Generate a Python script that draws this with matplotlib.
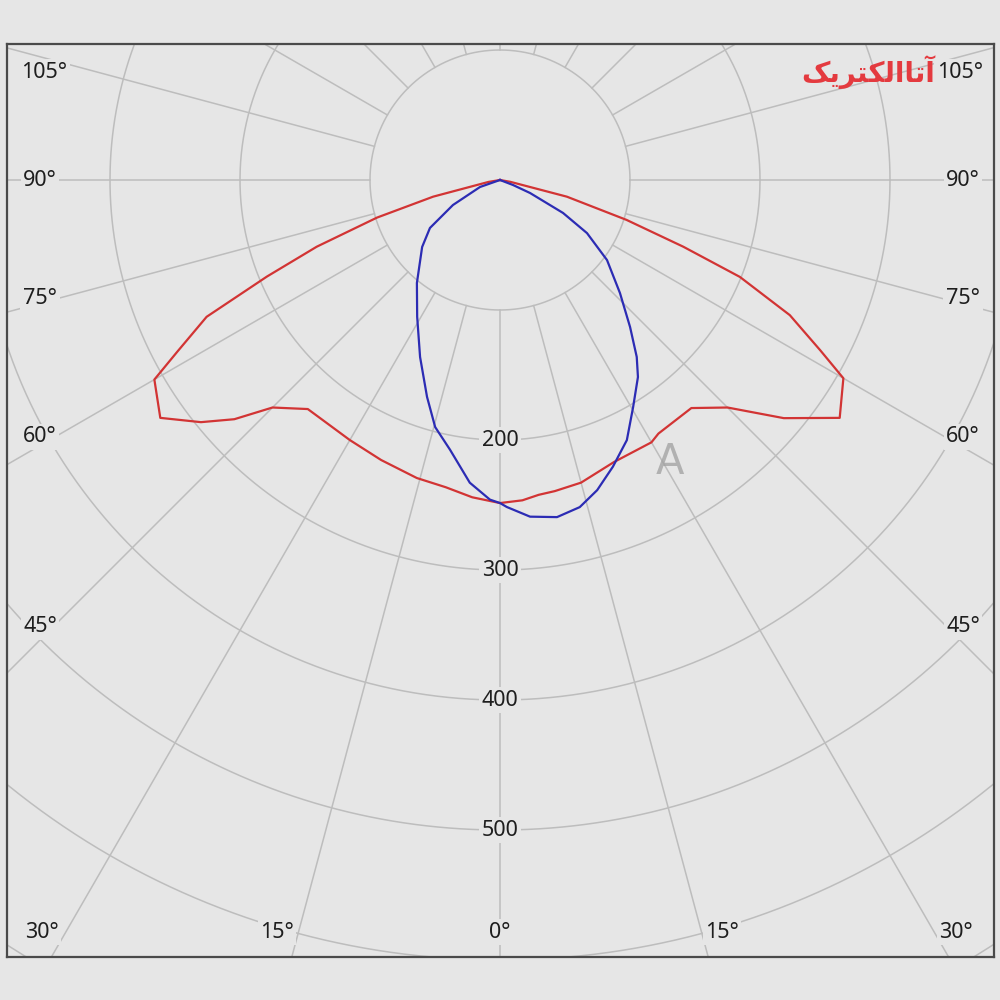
import numpy as np
import matplotlib
matplotlib.use("Agg")
import matplotlib.pyplot as plt

# ---------------- data (gamma angle in degrees, intensity in cd) ----------------
# C0-C180 plane (red): right half (C0) and left half (C180)
red_right_angle = [0, 4, 7, 10, 15, 22, 30, 32, 40, 45, 50, 55, 60, 62, 65, 68, 70, 72.5, 76, 80, 85, 90]
red_right_cd    = [248.5, 247, 244, 243, 241, 234, 233, 230, 229, 247.5, 285, 319, 305, 279, 246, 199, 150, 102, 53, 8, 0, 0]
red_left_angle  = [0, 5, 10, 15.6, 23, 30, 40, 45, 48, 51, 55, 60, 62, 65, 67.5, 70, 73, 76, 80.5, 85, 90]
red_left_cd     = [248.5, 245, 240, 238, 234, 231, 230, 247.5, 275, 296, 319, 307, 281, 249, 194, 150, 99, 53, 9, 0, 0]

# C90-C270 plane (blue)
blue_right_angle = [0, 1.2, 5.1, 9.6, 13.7, 17.4, 21.5, 26, 30.4, 35, 37.7, 41.5, 46.7, 53.2, 58.6, 62.4, 66.6, 69, 75, 90]
blue_right_cd    = [248.5, 251.6, 260, 263, 259, 250, 237, 222.6, 202.4, 185, 172, 151, 126.8, 102.8, 78.4, 54.7, 25.2, 10.7, 0, 0]
blue_left_angle  = [0, 1.8, 5.7, 10.5, 14.7, 18.6, 24.3, 31.2, 38.9, 49.3, 55.6, 62, 70.7, 75, 90]
blue_left_cd     = [248.5, 246, 234, 211, 196.5, 176, 149.4, 123, 101.8, 79, 65.3, 41, 16.3, 0, 0]

ring_values = [100, 200, 300, 400, 500, 600, 700]
ring_labels = ["200", "300", "400", "500"]
spoke_angles = list(range(0, 360, 15))
side_angle_labels = ["105°", "90°", "75°", "60°", "45°"]
bottom_angle_labels = ["30°", "15°", "0°", "15°", "30°"]

# ---------------- layout helpers ----------------
PX = 1.3              # pixels per cd
CX, CY = 500, 180     # pole position in pixels
BOX = (7, 44, 994, 957)  # left, top, right, bottom (pixels)

def px2data(px, py):
    return (px - CX) / PX, (CY - py) / PX

def polar_xy(angles, values, side):
    a = np.radians(np.asarray(angles, float))
    v = np.asarray(values, float)
    return side * v * np.sin(a), -v * np.cos(a)

BG = "#e6e6e6"
GRID = "#bdbdbd"
TXT = "#1e1e1e"

fig = plt.figure(figsize=(10, 10), dpi=100, facecolor=BG)
l, t, r, b = BOX
ax = fig.add_axes([l / 1000, 1 - b / 1000, (r - l) / 1000, (b - t) / 1000])
ax.set_facecolor(BG)
x0, y1 = px2data(l, t)
x1, y0 = px2data(r, b)
ax.set_xlim(x0, x1)
ax.set_ylim(y0, y1)
ax.set_aspect("equal", adjustable="datalim")
ax.set_xticks([])
ax.set_yticks([])
for s in ax.spines.values():
    s.set_color("#4a4a4a")
    s.set_linewidth(1.6)
    s.set_zorder(10)

# rings
th = np.linspace(0, 2 * np.pi, 1441)
for rv in ring_values:
    ax.plot(rv * np.cos(th), rv * np.sin(th), color=GRID, lw=1.1, zorder=1)

# spokes (from the first ring outwards)
for ang in spoke_angles:
    a = np.radians(ang)
    ax.plot([100 * np.sin(a), 1200 * np.sin(a)], [-100 * np.cos(a), -1200 * np.cos(a)],
            color=GRID, lw=1.1, zorder=1)

# curves
xl, yl = polar_xy(red_left_angle, red_left_cd, -1)
xr, yr = polar_xy(red_right_angle, red_right_cd, 1)
ax.plot(np.r_[xl[::-1], xr], np.r_[yl[::-1], yr], color="#d23434", lw=1.6, zorder=5,
        solid_joinstyle="round")
xl, yl = polar_xy(blue_left_angle, blue_left_cd, -1)
xr, yr = polar_xy(blue_right_angle, blue_right_cd, 1)
ax.plot(np.r_[xl[::-1], xr], np.r_[yl[::-1], yr], color="#2c2cb4", lw=1.6, zorder=5,
        solid_joinstyle="round")

FONT = "Noto Sans"
lab_kw = dict(fontsize=15.5, color=TXT, family=FONT, ha="center", va="center", zorder=4,
              bbox=dict(boxstyle="square,pad=0.12", fc=BG, ec="none"))

# intensity labels on the 0° spoke
for lbl in ring_labels:
    v = float(lbl)
    ax.text(0, -v, lbl, **lab_kw)

# side angle labels
side_py = [72, 180, 299, 437, 627]
for lbl, py in zip(side_angle_labels, side_py):
    ax.text(*px2data(40 if lbl != "105°" else 44, py), lbl, **lab_kw)
    ax.text(*px2data(963 if lbl != "105°" else 960, py), lbl, **lab_kw)

# bottom angle labels
bottom_px = [42, 277, 500, 722, 956]
for lbl, pxx in zip(bottom_angle_labels, bottom_px):
    ax.text(*px2data(pxx, 932), lbl, **lab_kw)

# watermarks
logo = "\uFB8F\uFBFE\uFEAE\uFE98\uFB91\uFEDF\uFE8D\uFE8E\uFE97\uFE81"
ax.text(*px2data(935, 72), logo, fontsize=20, fontweight="bold", color="#e43a3f",
        family=["DejaVu Sans"], ha="right", va="center", zorder=6)
ax.text(*px2data(670, 462), "A", fontsize=30, color="#a0a0a0", alpha=0.75,
        family="DejaVu Sans", ha="center", va="center", zorder=3)

fig.savefig("out.png", dpi=100, facecolor=BG)
